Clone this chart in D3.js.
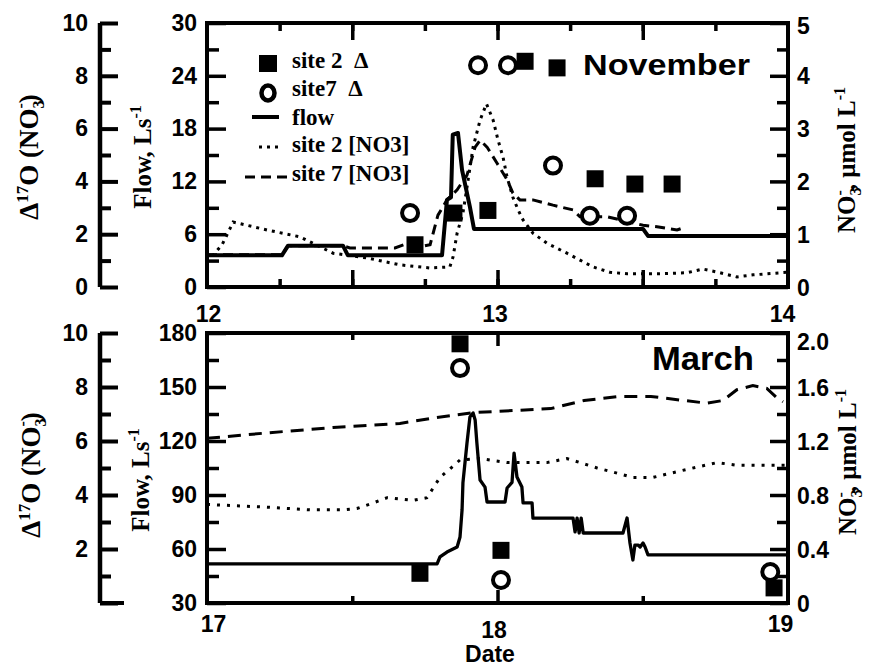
<!DOCTYPE html>
<html><head><meta charset="utf-8">
<script src="https://cdn.jsdelivr.net/npm/d3@7"></script>
<style>body{margin:0;background:#fff}svg{display:block}</style>
</head><body><svg id="c" width="869" height="666"></svg>
<script>
// ---------------- DATA ----------------
// November panel (dates in days of month)
const novDateTicks = [12, 13, 14];
const novFlowTicks = [0, 6, 12, 18, 24, 30];
const novNO3Ticks = [0, 1, 2, 3, 4, 5];
const novD17Ticks = [0, 2, 4, 6, 8, 10];
// flow, L/s
const novFlow = [[12.0,3.6],[12.258,3.6],[12.279,4.7],[12.468,4.7],[12.485,3.6],[12.809,3.6],[12.826,9.9],[12.840,10.2],[12.846,17.3],[12.864,17.5],[12.878,13.3],[12.905,9.1],[12.919,6.6],[13.501,6.6],[13.518,5.8],[14.0,5.8]];
// site 2 [NO3], umol/L
const novSite2NO3 = [[12.0,0.47],[12.052,0.80],[12.090,1.23],[12.207,1.08],[12.320,0.95],[12.434,0.64],[12.551,0.55],[12.664,0.42],[12.768,0.36],[12.836,0.38],[12.847,0.57],[12.861,1.02],[12.881,1.40],[12.895,1.89],[12.916,2.65],[12.940,3.16],[12.962,3.47],[12.985,3.16],[13.002,2.78],[13.019,2.46],[13.033,2.08],[13.053,1.70],[13.071,1.46],[13.088,1.27],[13.122,1.02],[13.170,0.83],[13.239,0.64],[13.284,0.51],[13.329,0.38],[13.387,0.28],[13.446,0.25],[13.559,0.25],[13.652,0.27],[13.707,0.34],[13.766,0.27],[13.824,0.19],[13.880,0.23],[14.0,0.28]];
// site 7 [NO3], umol/L
const novSite7NO3 = [[12.0,0.61],[12.258,0.61],[12.279,0.78],[12.468,0.78],[12.492,0.74],[12.647,0.74],[12.682,0.81],[12.733,0.76],[12.768,0.80],[12.795,1.36],[12.826,1.65],[12.861,1.84],[12.895,2.12],[12.923,2.65],[12.940,2.78],[12.964,2.65],[12.998,2.35],[13.033,2.03],[13.053,1.78],[13.077,1.65],[13.122,1.65],[13.191,1.55],[13.260,1.46],[13.284,1.33],[13.377,1.33],[13.501,1.17],[13.549,1.14],[13.618,1.08],[13.639,1.12]];
// Delta17O of nitrate
const novSite2D17 = [[12.716,1.6],[12.850,2.8],[12.967,2.9],[13.095,8.55],[13.205,8.3],[13.336,4.1],[13.473,3.9],[13.601,3.9]];
const novSite7D17 = [[12.699,2.8],[12.933,8.4],[13.036,8.4],[13.191,4.6],[13.318,2.7],[13.446,2.7]];

// March panel
const marDateTicks = [17, 18, 19];
const marFlowTicks = [30, 60, 90, 120, 150, 180];
const marNO3Ticks = [0, 0.4, 0.8, 1.2, 1.6, 2.0];
const marD17Ticks = [0, 2, 4, 6, 8, 10];
const marFlow = [[17.0,51.7],[17.792,51.7],[17.802,55.6],[17.826,58.3],[17.861,61.1],[17.871,66.7],[17.878,81.7],[17.881,96.7],[17.895,118.9],[17.905,133.3],[17.916,135.6],[17.923,131.7],[17.929,118.9],[17.940,98.3],[17.957,94.4],[17.964,86.1],[18.026,86.1],[18.033,93.9],[18.050,97.0],[18.057,113.3],[18.067,100.0],[18.084,94.4],[18.088,85.6],[18.119,85.6],[18.122,77.2],[18.260,77.2],[18.267,69.5],[18.274,77.2],[18.281,68.9],[18.288,77.2],[18.295,68.9],[18.432,68.9],[18.446,77.2],[18.456,63.3],[18.466,53.9],[18.473,62.2],[18.484,62.2],[18.491,61.1],[18.501,63.3],[18.508,61.1],[18.518,56.7],[19.0,56.7]];
const marSite2NO3 = [[17.0,0.73],[17.207,0.71],[17.355,0.69],[17.468,0.69],[17.516,0.70],[17.571,0.74],[17.620,0.78],[17.709,0.76],[17.757,0.78],[17.778,0.85],[17.802,0.93],[17.840,1.00],[17.871,1.06],[17.940,1.07],[18.033,1.04],[18.170,1.04],[18.239,1.07],[18.284,1.04],[18.343,1.00],[18.398,0.97],[18.466,0.93],[18.535,0.93],[18.652,0.99],[18.756,1.04],[18.824,1.02],[18.928,1.02],[19.0,1.02]];
const marSite7NO3 = [[17.0,1.22],[17.207,1.26],[17.434,1.30],[17.664,1.33],[17.778,1.37],[17.916,1.41],[18.183,1.44],[18.298,1.50],[18.415,1.53],[18.528,1.53],[18.642,1.50],[18.721,1.48],[18.776,1.50],[18.824,1.58],[18.879,1.61],[18.927,1.59],[18.962,1.52],[18.983,1.49]];
const marSite2D17 = [[17.871,9.6],[17.733,1.1],[18.012,1.95],[18.952,0.56]];
const marSite7D17 = [[17.871,8.7],[18.012,0.85],[18.939,1.15]];

// ---------------- DRAW ----------------
const sans = "'Liberation Sans', Arial, Helvetica, sans-serif";
const serif = "'Liberation Serif', 'Times New Roman', Times, serif";
const svg = d3.select("#c");
const X0 = 207, X1 = 788, DAX = 100;

function range(a, b, s) { const r = []; for (let v = a; v <= b + 1e-9; v += s) r.push(+v.toFixed(4)); return r; }

function styleAxis(g, sw, fs) {
  g.select(".domain").remove();
  g.selectAll(".tick line").attr("stroke", "#000").attr("stroke-width", sw);
  g.selectAll(".tick text").attr("fill", "#000").attr("font-family", sans)
    .attr("font-weight", "bold").attr("font-size", fs);
}

function panel(p) {
  const g = svg.append("g");
  const x = d3.scaleLinear().domain(p.xDom).range([X0, X1]);
  const yF = d3.scaleLinear().domain(p.flowDom).range([p.bot, p.top]);
  const yN = d3.scaleLinear().domain(p.no3Dom).range([p.bot, p.top]);
  const yD = d3.scaleLinear().domain([0, 10]).range([p.bot, p.top]);

  // x ticks (inside, top and bottom)
  [[d3.axisBottom, p.bot], [d3.axisTop, p.top]].forEach(([ax, yy]) => {
    g.append("g").attr("transform", `translate(0,${yy})`)
      .call(ax(x).tickValues(p.xMinor).tickSize(-p.xMinorLen).tickFormat(""))
      .call(a => styleAxis(a, 3.5, 1));
    g.append("g").attr("transform", `translate(0,${yy})`)
      .call(ax(x).tickValues(p.xMajor).tickSize(-p.xMajorLen).tickFormat(""))
      .call(a => styleAxis(a, 3.5, 1));
  });
  // x labels
  const xl = g.append("g").attr("transform", `translate(0,${p.bot})`)
    .call(d3.axisBottom(x).tickValues(p.xTicks).tickSize(0).tickPadding(p.xPad).tickFormat(d3.format("d")))
    .call(a => styleAxis(a, 0, 23));
  xl.selectAll(".tick text").attr("dx", (d, i) => p.xNudge[i][0]).attr("dy", (d, i) => (p.xNudge[i][1] + 16.5) + "px");

  // left flow axis (frame edge)
  g.append("g").attr("transform", `translate(${X0},0)`)
    .call(d3.axisLeft(yF).tickValues(p.flowMinor).tickSize(-12).tickFormat(""))
    .call(a => styleAxis(a, 3.5, 1));
  g.append("g").attr("transform", `translate(${X0},0)`)
    .call(d3.axisLeft(yF).tickValues(p.flowTicks).tickSize(-19).tickPadding(10).tickFormat(d3.format("d")))
    .call(a => styleAxis(a, 3.5, 23));

  // right NO3 axis
  g.append("g").attr("transform", `translate(${X1},0)`)
    .call(d3.axisRight(yN).tickValues(p.no3Minor).tickSize(-11).tickFormat(""))
    .call(a => styleAxis(a, 3.5, 1));
  const ra = g.append("g").attr("transform", `translate(${X1},0)`)
    .call(d3.axisRight(yN).tickValues(p.no3Ticks).tickSize(-18).tickPadding(9).tickFormat(p.no3Fmt))
    .call(a => styleAxis(a, 3.5, 23));
  ra.selectAll(".tick text").attr("dy", (d, i, n) => (i === n.length - 1 ? p.no3TopNudge : 0) + 8 + "px");

  // separate Delta17O axis
  g.append("line").attr("x1", DAX).attr("x2", DAX).attr("y1", p.top).attr("y2", p.bot)
    .attr("stroke", "#000").attr("stroke-width", 4.5);
  g.append("g").attr("transform", `translate(${DAX},0)`)
    .call(d3.axisLeft(yD).tickValues(range(1, 9, 2)).tickSize(-11).tickFormat(""))
    .call(a => styleAxis(a, 4, 1));
  g.append("g").attr("transform", `translate(${DAX},0)`)
    .call(d3.axisLeft(yD).tickValues(p.dTicks).tickSize(-18).tickPadding(12).tickFormat(p.dFmt))
    .call(a => styleAxis(a, 4, 23));
  if (p.dZeroLong) {
    g.append("line").attr("x1", DAX).attr("x2", DAX + 24).attr("y1", yD(0)).attr("y2", yD(0))
      .attr("stroke", "#000").attr("stroke-width", 4);
  }

  // frame
  g.append("rect").attr("x", X0).attr("y", p.top).attr("width", X1 - X0).attr("height", p.bot - p.top)
    .attr("fill", "none").attr("stroke", "#000").attr("stroke-width", 4);

  // lines
  const clip = "clip" + p.id;
  svg.append("clipPath").attr("id", clip).append("rect")
    .attr("x", X0).attr("y", p.top).attr("width", X1 - X0).attr("height", p.bot - p.top);
  const lg = g.append("g").attr("clip-path", `url(#${clip})`);
  const lineN = d3.line().x(d => x(d[0])).y(d => yN(d[1]));
  const lineF = d3.line().x(d => x(d[0])).y(d => yF(d[1]));
  lg.append("path").attr("d", lineN(p.s2N)).attr("fill", "none").attr("stroke", "#000")
    .attr("stroke-width", 3).attr("stroke-dasharray", p.dotDash);
  lg.append("path").attr("d", lineN(p.s7N)).attr("fill", "none").attr("stroke", "#000")
    .attr("stroke-width", 3).attr("stroke-dasharray", p.dashDash);
  lg.append("path").attr("d", lineF(p.flow)).attr("fill", "none").attr("stroke", "#000")
    .attr("stroke-width", p.flowW).attr("stroke-linejoin", "round");

  // markers
  g.selectAll(null).data(p.s7D).join("circle")
    .attr("cx", d => x(d[0])).attr("cy", d => yD(d[1])).attr("r", 8)
    .attr("fill", "#fff").attr("stroke", "#000").attr("stroke-width", 4);
  g.selectAll(null).data(p.s2D).join("rect")
    .attr("x", d => x(d[0]) - 8.5).attr("y", d => yD(d[1]) - 8.5).attr("width", 17).attr("height", 17)
    .attr("fill", "#000");

  // axis titles
  const t1 = g.append("text").attr("transform", `translate(${p.dTitle[0]},${p.dTitle[1]}) rotate(-90)`)
    .attr("text-anchor", "middle").attr("font-family", serif).attr("font-size", 27).attr("font-weight", "bold");
  t1.append("tspan").text("\u0394");
  t1.append("tspan").attr("font-size", 17).attr("dy", -10).text("17");
  t1.append("tspan").attr("dy", 10).text("O (NO");
  t1.append("tspan").attr("font-size", 16).attr("dy", 6).text("3");
  t1.append("tspan").attr("font-size", 16).attr("dx", -8).attr("dy", -18).text("-");
  t1.append("tspan").attr("dy", 12).text(")");

  const t2 = g.append("text").attr("transform", `translate(${p.fTitle[0]},${p.fTitle[1]}) rotate(-90)`)
    .attr("text-anchor", "middle").attr("font-family", serif).attr("font-size", 25).attr("font-weight", "bold");
  t2.append("tspan").text("Flow, Ls");
  t2.append("tspan").attr("font-size", 16).attr("dy", -10).text("-1");

  const t3 = g.append("text").attr("transform", `translate(${p.nTitle[0]},${p.nTitle[1]}) rotate(-90)`)
    .attr("text-anchor", "middle").attr("font-family", serif).attr("font-size", 25).attr("font-weight", "bold");
  t3.append("tspan").text("NO");
  t3.append("tspan").attr("font-size", 16).attr("dy", 6).text("3");
  t3.append("tspan").attr("font-size", 16).attr("dx", -8).attr("dy", -16).text("-");
  t3.append("tspan").attr("dy", 10).text(", \u03bcmol L");
  t3.append("tspan").attr("font-size", 16).attr("dy", -10).text("-1");

  // month label
  g.append("text").attr("x", p.month[1]).attr("y", p.month[2]).text(p.month[0])
    .attr("font-family", sans).attr("font-weight", "bold").attr("font-size", p.month[3])
    .attr("textLength", p.month[4]).attr("lengthAdjust", "spacingAndGlyphs");
  return { g, x, yF, yN, yD };
}

const nov = panel({
  id: "n", top: 23, bot: 287, xDom: [12, 14], flowDom: [0, 30], no3Dom: [0, 5],
  xTicks: novDateTicks, xMajor: range(12.5, 13.5, 0.5), xMinor: range(12.25, 13.75, 0.25),
  xMajorLen: 17, xMinorLen: 8, xPad: 18, xNudge: [[1, 0], [-3, 0], [-6, 0]],
  flowTicks: novFlowTicks, flowMinor: range(3, 27, 6),
  no3Ticks: novNO3Ticks, no3Minor: range(0.5, 4.5, 1), no3Fmt: d3.format("d"), no3TopNudge: 2,
  dTicks: novD17Ticks, dFmt: d3.format("d"), dZeroLong: false,
  flow: novFlow, s2N: novSite2NO3, s7N: novSite7NO3, s2D: novSite2D17, s7D: novSite7D17,
  flowW: 4, dotDash: "3,5", dashDash: "10,6",
  dTitle: [38, 157], fTitle: [151, 157], nTitle: [855, 160],
  month: ["November", 583, 75, 30, 167]
});

const mar = panel({
  id: "m", top: 333, bot: 603, xDom: [17, 19], flowDom: [30, 180], no3Dom: [0, 2],
  xTicks: marDateTicks, xMajor: [18], xMinor: [17.5, 18.5],
  xMajorLen: 13, xMinorLen: 7, xPad: 12, xNudge: [[6, 0], [-4, 6], [-8, 0]],
  flowTicks: marFlowTicks, flowMinor: range(45, 165, 30),
  no3Ticks: marNO3Ticks, no3Minor: range(0.2, 1.8, 0.4), no3Fmt: d => d === 0 ? "0" : d3.format(".1f")(d), no3TopNudge: 8,
  dTicks: marD17Ticks, dFmt: d => d === 0 ? "" : d3.format("d")(d), dZeroLong: true,
  flow: marFlow, s2N: marSite2NO3, s7N: marSite7NO3, s2D: marSite2D17, s7D: marSite7D17,
  flowW: 3.3, dotDash: "3,7", dashDash: "13,8",
  dTitle: [40, 475], fTitle: [149, 480], nTitle: [856, 462],
  month: ["March", 652, 370, 33, 102]
});

// x title
svg.append("text").attr("x", 490).attr("y", 662).attr("text-anchor", "middle")
  .attr("font-family", sans).attr("font-weight", "bold").attr("font-size", 23).text("Date");

// legend (November panel)
const legendLabels = ["site 2  \u0394", "site7  \u0394", "flow", "site 2 [NO3]", "site 7 [NO3]"];
const legendY = [68, 96, 125, 152, 181];
const leg = svg.append("g");
leg.append("rect").attr("x", 259).attr("y", 55).attr("width", 18).attr("height", 17).attr("fill", "#000");
leg.append("ellipse").attr("cx", 268).attr("cy", 93).attr("rx", 6.5).attr("ry", 7.5)
  .attr("fill", "#fff").attr("stroke", "#000").attr("stroke-width", 4.5);
leg.append("line").attr("x1", 252).attr("x2", 279).attr("y1", 117).attr("y2", 117).attr("stroke", "#000").attr("stroke-width", 4);
leg.append("line").attr("x1", 259).attr("x2", 279).attr("y1", 147).attr("y2", 147).attr("stroke", "#000").attr("stroke-width", 3).attr("stroke-dasharray", "3,5");
leg.append("line").attr("x1", 245).attr("x2", 288).attr("y1", 177).attr("y2", 177).attr("stroke", "#000").attr("stroke-width", 3).attr("stroke-dasharray", "10,6");
leg.selectAll(null).data(legendLabels).join("text")
  .attr("x", 292).attr("y", (d, i) => legendY[i]).text(d => d)
  .attr("font-family", serif).attr("font-weight", "bold").attr("font-size", 23)
  .style("white-space", "pre");
</script></body></html>
